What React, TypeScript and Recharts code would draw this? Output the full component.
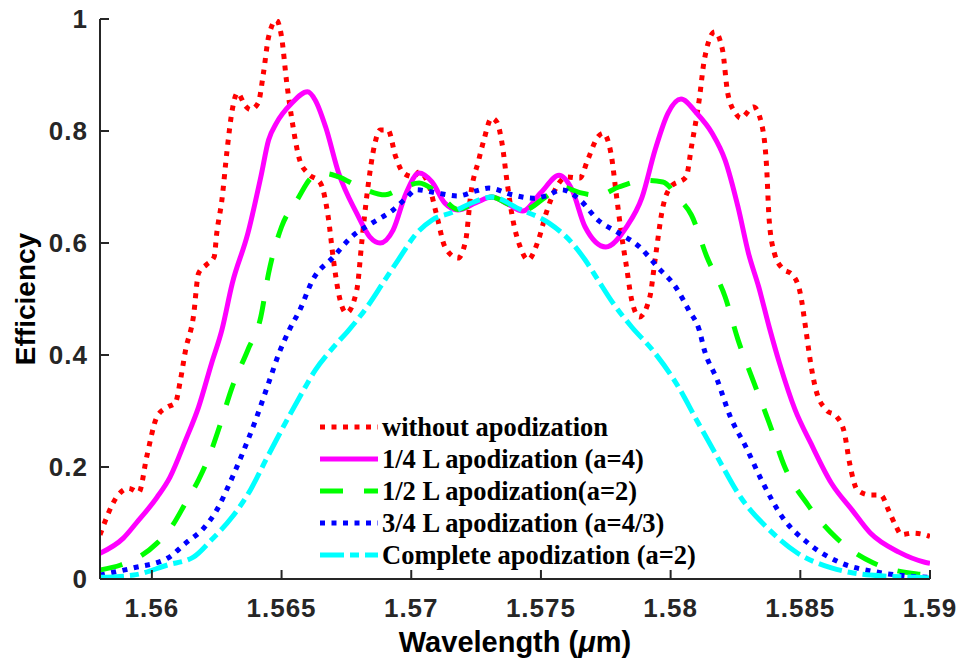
import React from 'react';
import { LineChart, Line, XAxis, YAxis, Legend } from 'recharts';

// wavelength (um) / efficiency samples for each apodization profile
const noApodWl = [
  1.558, 1.5587, 1.5591, 1.5595, 1.5598, 1.5602, 1.5606, 1.5609, 1.5611, 1.5613,
  1.5616, 1.5618, 1.5621, 1.5624, 1.5625, 1.5627, 1.5629, 1.5631, 1.5633, 1.5636,
  1.5638, 1.5641, 1.5643, 1.5645, 1.5648, 1.565, 1.5652, 1.5654, 1.5657, 1.566,
  1.5665, 1.5668, 1.567, 1.5672, 1.5675, 1.5679, 1.5681, 1.5683, 1.5686, 1.5688,
  1.5691, 1.5694, 1.5697, 1.5701, 1.5703, 1.5707, 1.571, 1.5713, 1.5718, 1.5721,
  1.5723, 1.5726, 1.5728, 1.5731, 1.5733, 1.5735, 1.5737, 1.5739, 1.5742, 1.5745,
  1.5749, 1.5752, 1.5756, 1.576, 1.5765, 1.5768, 1.5772, 1.5774, 1.5777, 1.5779,
  1.5781, 1.5783, 1.5785, 1.5788, 1.5792, 1.5794, 1.5797, 1.58, 1.5806, 1.5808,
  1.5811, 1.5813, 1.5817, 1.582, 1.5822, 1.5825, 1.5827, 1.5832, 1.5835, 1.5837,
  1.5838, 1.584, 1.5843, 1.5847, 1.585, 1.5852, 1.5854, 1.5856, 1.586, 1.5864,
  1.5867, 1.5869, 1.5872, 1.5877, 1.5881, 1.5884, 1.5887, 1.5889, 1.5893, 1.5898,
  1.59,
];
const noApodEff = [
  0.079, 0.15, 0.162, 0.155, 0.218, 0.29, 0.307, 0.314, 0.355, 0.409,
  0.468, 0.546, 0.561, 0.575, 0.617, 0.677, 0.766, 0.838, 0.868, 0.845,
  0.838, 0.85, 0.903, 0.968, 0.998, 0.968, 0.886, 0.82, 0.748, 0.725,
  0.707, 0.646, 0.57, 0.51, 0.475, 0.516, 0.605, 0.689, 0.778, 0.802,
  0.802, 0.754, 0.725, 0.718, 0.727, 0.7, 0.646, 0.593, 0.573, 0.605,
  0.689, 0.748, 0.784, 0.823, 0.816, 0.778, 0.707, 0.646, 0.593, 0.57,
  0.605, 0.653, 0.7, 0.718, 0.716, 0.748, 0.79, 0.796, 0.76, 0.689,
  0.617, 0.557, 0.498, 0.468, 0.504, 0.57, 0.664, 0.7, 0.718, 0.771,
  0.855, 0.927, 0.977, 0.945, 0.868, 0.832, 0.823, 0.843, 0.814, 0.736,
  0.641, 0.582, 0.555, 0.543, 0.51, 0.45, 0.385, 0.338, 0.302, 0.29,
  0.261, 0.207, 0.159, 0.15, 0.15, 0.123, 0.093, 0.079, 0.082, 0.079,
  0.076,
];

const quarterWl = [
  1.558, 1.5589, 1.5594, 1.5602, 1.5607, 1.5613, 1.5618, 1.5623, 1.5627, 1.5631,
  1.5637, 1.5642, 1.5645, 1.5648, 1.5654, 1.566, 1.5663, 1.5667, 1.5672, 1.5679,
  1.5684, 1.5688, 1.5693, 1.5698, 1.5703, 1.5708, 1.5713, 1.5718, 1.5725, 1.5731,
  1.5737, 1.5743, 1.575, 1.5757, 1.5762, 1.5767, 1.5775, 1.5783, 1.5789, 1.5794,
  1.5799, 1.5804, 1.581, 1.5816, 1.5821, 1.5826, 1.583, 1.5834, 1.5838, 1.5842,
  1.5848, 1.5854, 1.5862, 1.587, 1.5877, 1.5888, 1.5898, 1.59,
];
const quarterEff = [
  0.046, 0.073, 0.1, 0.146, 0.182, 0.248, 0.307, 0.385, 0.445, 0.528,
  0.617, 0.718, 0.784, 0.814, 0.85, 0.87, 0.855, 0.807, 0.725, 0.653,
  0.611, 0.6, 0.623, 0.689, 0.725, 0.709, 0.671, 0.659, 0.672, 0.682,
  0.67, 0.657, 0.69, 0.721, 0.695, 0.629, 0.593, 0.629, 0.682, 0.766,
  0.832, 0.857, 0.832, 0.796, 0.748, 0.664, 0.582, 0.521, 0.45, 0.385,
  0.302, 0.243, 0.171, 0.123, 0.082, 0.048, 0.03, 0.028,
];

const halfWl = [
  1.558, 1.5588, 1.5595, 1.5602, 1.5608, 1.5613, 1.5618, 1.5622, 1.5626, 1.5631,
  1.5637, 1.5642, 1.5645, 1.565, 1.5656, 1.5662, 1.5667, 1.5672, 1.568, 1.569,
  1.5695, 1.5703, 1.571, 1.5718, 1.5725, 1.5731, 1.5738, 1.5744, 1.5752, 1.5758,
  1.5765, 1.5772, 1.578, 1.579, 1.5797, 1.5803, 1.5808, 1.5814, 1.5821, 1.5826,
  1.5832, 1.5838, 1.5844, 1.5853, 1.5864, 1.5878, 1.5895, 1.59,
];
const halfEff = [
  0.016, 0.025, 0.039, 0.064, 0.096, 0.136, 0.177, 0.218, 0.271, 0.343,
  0.409, 0.468, 0.546, 0.629, 0.677, 0.718, 0.724, 0.718, 0.7, 0.686,
  0.695, 0.707, 0.69, 0.66, 0.672, 0.682, 0.668, 0.66, 0.683, 0.7,
  0.69, 0.685, 0.7, 0.712, 0.709, 0.68, 0.65, 0.575, 0.504, 0.427,
  0.352, 0.279, 0.2, 0.132, 0.073, 0.029, 0.009, 0.007,
];

const threeQuarterWl = [
  1.558, 1.5593, 1.5606, 1.5613, 1.562, 1.5625, 1.563, 1.5635, 1.564, 1.5645,
  1.5649, 1.5653, 1.5657, 1.5662, 1.567, 1.5677, 1.5685, 1.5693, 1.5698, 1.5702,
  1.5708, 1.5718, 1.5725, 1.573, 1.5739, 1.5747, 1.5752, 1.5758, 1.5765, 1.5772,
  1.578, 1.5788, 1.5795, 1.5802, 1.5807, 1.5811, 1.5813, 1.5818, 1.5823, 1.5829,
  1.5835, 1.5843, 1.5853, 1.5865, 1.588, 1.5895, 1.59,
];
const threeQuarterEff = [
  0.007, 0.02, 0.037, 0.064, 0.091, 0.123, 0.171, 0.225, 0.284, 0.35,
  0.403, 0.445, 0.48, 0.534, 0.575, 0.611, 0.636, 0.659, 0.68, 0.695,
  0.691, 0.684, 0.693, 0.698, 0.686, 0.68, 0.684, 0.695, 0.677, 0.641,
  0.618, 0.593, 0.557, 0.521, 0.48, 0.445, 0.409, 0.355, 0.29, 0.236,
  0.177, 0.111, 0.064, 0.03, 0.012, 0.004, 0.003,
];

const completeWl = [
  1.558, 1.5593, 1.5606, 1.5616, 1.5623, 1.5631, 1.5638, 1.5644, 1.565, 1.5657,
  1.5663, 1.567, 1.5676, 1.5683, 1.5689, 1.5695, 1.5702, 1.5708, 1.5716, 1.5723,
  1.5731, 1.5742, 1.5753, 1.5762, 1.5767, 1.5772, 1.5777, 1.5785, 1.5793, 1.5803,
  1.581, 1.5818, 1.5827, 1.5838, 1.5849, 1.5862, 1.5877, 1.5895, 1.59,
];
const completeEff = [
  0.003, 0.007, 0.025, 0.039, 0.07, 0.111, 0.159, 0.213, 0.266, 0.325,
  0.373, 0.414, 0.445, 0.486, 0.528, 0.57, 0.617, 0.641, 0.655, 0.671,
  0.682, 0.66, 0.636, 0.6, 0.57, 0.534, 0.498, 0.45, 0.409, 0.343,
  0.284, 0.218, 0.146, 0.088, 0.046, 0.02, 0.007, 0.003, 0.002,
];

const xTicks = [1.56, 1.565, 1.57, 1.575, 1.58, 1.585, 1.59];
const yTicks = [0, 0.2, 0.4, 0.6, 0.8, 1];

const toPoints = (wl: number[], eff: number[]) => wl.map((w, i) => ({ wl: w, eff: eff[i] }));

const LINE_W = 5;

const series = [
  { name: 'without apodization', color: '#ff0000', dash: '5 6.5', data: toPoints(noApodWl, noApodEff) },
  { name: '1/4 L apodization (a=4)', color: '#ff00ff', dash: undefined, data: toPoints(quarterWl, quarterEff) },
  { name: '1/2 L apodization(a=2)', color: '#00ff00', dash: '23 21', data: toPoints(halfWl, halfEff) },
  { name: '3/4 L apodization (a=4/3)', color: '#0000ff', dash: '5 6.5', data: toPoints(threeQuarterWl, threeQuarterEff) },
  { name: 'Complete apodization (a=2)', color: '#00ffff', dash: '24 6 9 6', data: toPoints(completeWl, completeEff) },
];

const AXIS = '#262626';
const SANS = '"Liberation Sans", Arial, Helvetica, sans-serif';
const SERIF = '"Liberation Serif", "Times New Roman", serif';

const tickText = {
  fontFamily: SANS,
  fontWeight: 700,
  fontSize: 26,
  letterSpacing: 1,
  fill: AXIS,
};

const BottomTick = ({ x, y, payload }: any) => (
  <g>
    <line x1={x} x2={x} y1={y} y2={y - 9} stroke={AXIS} strokeWidth={2} />
    <text x={x} y={y + 38} textAnchor="middle" {...tickText}>
      {payload.value}
    </text>
  </g>
);

const LeftTick = ({ x, y, payload }: any) => (
  <g>
    <line x1={x} x2={x + 9} y1={y} y2={y} stroke={AXIS} strokeWidth={2} />
    <text x={x - 12} y={y + 9} textAnchor="end" {...tickText}>
      {payload.value}
    </text>
  </g>
);

const TopTick = ({ x, y }: any) => (
  <line x1={x} x2={x} y1={y} y2={y + 9} stroke={AXIS} strokeWidth={2} />
);

const RightTick = ({ x, y }: any) => (
  <line x1={x} x2={x - 9} y1={y} y2={y} stroke={AXIS} strokeWidth={2} />
);

const XTitle = ({ viewBox }: any) => (
  <text
    x={viewBox.x + viewBox.width / 2}
    y={viewBox.y + 73}
    textAnchor="middle"
    fontFamily={SANS}
    fontWeight={700}
    fontSize={29}
    fill="#000"
  >
    Wavelength (<tspan fontStyle="italic">μ</tspan>m)
  </text>
);

const YTitle = ({ viewBox }: any) => {
  const cx = viewBox.x + 35;
  const cy = viewBox.y + viewBox.height / 2;
  return (
    <text
      x={cx}
      y={cy}
      transform={`rotate(-90 ${cx} ${cy})`}
      textAnchor="middle"
      fontFamily={SANS}
      fontWeight={700}
      fontSize={28}
      fill="#000"
    >
      Efficiency
    </text>
  );
};

const LegendBox = () => (
  <div>
    {series.map((s) => (
      <div key={s.name} style={{ display: 'flex', alignItems: 'center', height: 32 }}>
        <svg width={62} height={32}>
          <line
            x1={0}
            x2={58}
            y1={16}
            y2={16}
            stroke={s.color}
            strokeWidth={LINE_W}
            strokeDasharray={s.dash}
          />
        </svg>
        <span
          style={{
            fontFamily: SERIF,
            fontWeight: 700,
            fontSize: 26.5,
            color: '#000',
            whiteSpace: 'nowrap',
            lineHeight: '32px',
          }}
        >
          {s.name}
        </span>
      </div>
    ))}
  </div>
);

export default function App() {
  return (
    <div style={{ position: 'absolute', left: 0, top: 0, width: 960, height: 659, background: '#fff' }}>
      <LineChart width={960} height={659} margin={{ top: 19, right: 30, bottom: 0, left: 0 }}>
        <XAxis
          dataKey="wl"
          type="number"
          domain={[1.558, 1.59]}
          ticks={xTicks}
          allowDataOverflow
          height={80}
          tickSize={0}
          tickMargin={0}
          tickLine={false}
          tick={<BottomTick />}
          axisLine={{ stroke: AXIS, strokeWidth: 2 }}
          label={<XTitle />}
        />
        <XAxis
          xAxisId="top"
          orientation="top"
          dataKey="wl"
          type="number"
          domain={[1.558, 1.59]}
          ticks={xTicks}
          allowDataOverflow
          height={0}
          tickSize={0}
          tickMargin={0}
          tickLine={false}
          tick={<TopTick />}
          axisLine={{ stroke: AXIS, strokeWidth: 2 }}
        />
        <YAxis
          type="number"
          domain={[0, 1]}
          ticks={yTicks}
          allowDataOverflow
          width={100}
          tickSize={0}
          tickMargin={0}
          tickLine={false}
          tick={<LeftTick />}
          axisLine={{ stroke: AXIS, strokeWidth: 2 }}
          label={<YTitle />}
        />
        <YAxis
          yAxisId="right"
          orientation="right"
          type="number"
          domain={[0, 1]}
          ticks={yTicks}
          allowDataOverflow
          width={0}
          tickSize={0}
          tickMargin={0}
          tickLine={false}
          tick={<RightTick />}
          axisLine={{ stroke: AXIS, strokeWidth: 2 }}
        />
        {series.map((s) => (
          <Line
            key={s.name}
            name={s.name}
            data={s.data}
            dataKey="eff"
            type="monotone"
            stroke={s.color}
            strokeWidth={LINE_W}
            strokeDasharray={s.dash}
            strokeLinecap="butt"
            dot={false}
            activeDot={false}
            isAnimationActive={false}
          />
        ))}
        <Legend
          layout="vertical"
          align="center"
          verticalAlign="middle"
          content={<LegendBox />}
          wrapperStyle={{ left: 320, top: 411, width: 420, height: 160 }}
        />
      </LineChart>
    </div>
  );
}
